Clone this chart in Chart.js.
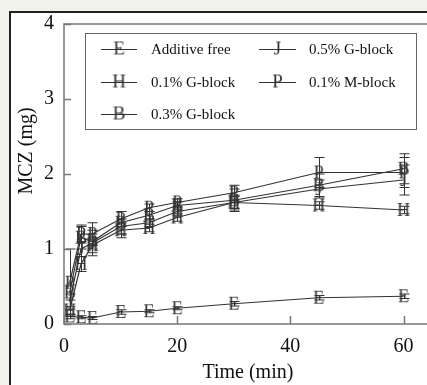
<!DOCTYPE html>
<html>
<head>
<meta charset="utf-8">
<script src="https://cdn.jsdelivr.net/npm/chart.js@4.4.1/dist/chart.umd.min.js"></script>
<style>
  html, body { margin: 0; padding: 0; background: #f2f2ed; overflow: hidden; }
  #frame { position: absolute; left: 9px; top: 11px; width: 500px; height: 500px;
           border-left: 2px solid #222; border-top: 2px solid #222; background: #fff; }
  #wrap { position: absolute; left: 0; top: 0; width: 440px; height: 385px; }
</style>
</head>
<body>
<div id="frame"></div>
<div id="wrap"><canvas id="chart" width="440" height="385"></canvas></div>
<script>
// time (min)
const times = [1, 3, 5, 10, 15, 20, 30, 45, 60]

// MCZ (mg) per series
const additiveFree = [0.10, 0.09, 0.08, 0.16, 0.17, 0.21, 0.27, 0.35, 0.37]
const g01 = [0.18, 0.80, 1.05, 1.25, 1.28, 1.42, 1.62, 1.58, 1.52]
const g03 = [0.42, 1.15, 1.10, 1.35, 1.45, 1.58, 1.65, 1.85, 2.07]
const g05 = [0.30, 1.00, 1.08, 1.30, 1.35, 1.50, 1.62, 1.80, 1.92]
const m01 = [0.55, 1.20, 1.20, 1.40, 1.55, 1.62, 1.75, 2.02, 2.02]

// error bars (+/-)
const additiveFreeErr = [0.03, 0.02, 0.02, 0.03, 0.02, 0.02, 0.03, 0.03, 0.03]
const g01Err = [0.05, 0.10, 0.10, 0.10, 0.05, 0.05, 0.08, 0.05, 0.05]
const g03Err = [0.10, 0.15, 0.10, 0.15, 0.05, 0.05, 0.15, 0.15, 0.20]
const g05Err = [0.10, 0.10, 0.17, 0.10, 0.05, 0.05, 0.10, 0.12, 0.20]
const m01Err = [0.45, 0.12, 0.15, 0.10, 0.05, 0.05, 0.10, 0.20, 0.20]

const seriesLabels = ['Additive free', '0.1% G-block', '0.3% G-block', '0.5% G-block', '0.1% M-block']
const markers = ['E', 'H', 'B', 'J', 'P']
const xTicks = [0, 20, 40, 60]
const yTicks = [0, 1, 2, 3, 4]

const serif = "'Liberation Serif', 'DejaVu Serif', serif"
const ink = '#333'

function letterImage(ch, size) {
  const c = document.createElement('canvas')
  c.width = size
  c.height = size + 2
  const g = c.getContext('2d')
  g.font = size + 'px ' + serif
  g.fillStyle = ink
  g.textAlign = 'center'
  g.textBaseline = 'middle'
  g.fillText(ch, size / 2, (size + 2) / 2 + 1)
  return c
}

const values = [additiveFree, g01, g03, g05, m01]
const errors = [additiveFreeErr, g01Err, g03Err, g05Err, m01Err]

const datasets = values.map((vals, i) => ({
  label: seriesLabels[i],
  data: times.map((t, j) => ({ x: t, y: vals[j] })),
  err: errors[i],
  borderColor: ink,
  borderWidth: 1.2,
  pointStyle: letterImage(markers[i], 18),
  pointRadius: 7,
  tension: 0,
  fill: false
}))

const boxPlugin = {
  id: 'box',
  afterDatasetsDraw(chart) {
    const ctx = chart.ctx
    const a = chart.chartArea
    const xs = chart.scales.x
    const ys = chart.scales.y
    ctx.save()
    // error bars
    ctx.strokeStyle = ink
    ctx.lineWidth = 1
    chart.data.datasets.forEach(ds => {
      ds.data.forEach((p, j) => {
        const e = ds.err[j]
        const px = Math.round(xs.getPixelForValue(p.x)) + 0.5
        const top = ys.getPixelForValue(p.y + e)
        const bot = ys.getPixelForValue(p.y - e)
        ctx.beginPath()
        ctx.moveTo(px, top); ctx.lineTo(px, bot)
        ctx.moveTo(px - 5, top); ctx.lineTo(px + 5, top)
        ctx.moveTo(px - 5, bot); ctx.lineTo(px + 5, bot)
        ctx.stroke()
      })
    })
    // frame
    ctx.strokeStyle = '#777'
    ctx.lineWidth = 1.5
    ctx.strokeRect(a.left, a.top, a.right - a.left, a.bottom - a.top)
    // inward ticks
    ctx.beginPath()
    xTicks.forEach(v => {
      const px = Math.round(xs.getPixelForValue(v)) + 0.5
      ctx.moveTo(px, a.bottom); ctx.lineTo(px, a.bottom - 8)
    })
    yTicks.forEach(v => {
      const py = Math.round(ys.getPixelForValue(v)) + 0.5
      ctx.moveTo(a.left, py); ctx.lineTo(a.left + 7, py)
    })
    ctx.stroke()

    // y axis title
    ctx.save()
    ctx.translate(27, 151)
    ctx.rotate(-Math.PI / 2)
    ctx.font = '20px ' + serif
    ctx.fillStyle = '#111'
    ctx.textAlign = 'center'
    ctx.textBaseline = 'middle'
    ctx.fillText('MCZ (mg)', 0, 0)
    ctx.restore()

    // legend
    ctx.strokeStyle = '#666'
    ctx.lineWidth = 1
    ctx.strokeRect(85.5, 33.5, 331, 96)
    const cols = [{ x0: 101, x1: 137, tx: 151 }, { x0: 259, x1: 296, tx: 309 }]
    const rows = [49, 82, 114]
    ctx.font = '15px ' + serif
    chart.data.datasets.forEach((ds, i) => {
      const c = cols[Math.floor(i / 3)]
      const y = rows[i % 3]
      ctx.strokeStyle = ink
      ctx.beginPath()
      ctx.moveTo(c.x0, y + 0.5); ctx.lineTo(c.x1, y + 0.5)
      ctx.stroke()
      const img = letterImage(markers[i], 19)
      ctx.drawImage(img, (c.x0 + c.x1) / 2 - img.width / 2, y - img.height / 2)
      ctx.fillStyle = '#111'
      ctx.textAlign = 'left'
      ctx.textBaseline = 'middle'
      ctx.fillText(ds.label, c.tx, y + 1)
    })
    ctx.restore()
  }
}

new Chart(document.getElementById('chart'), {
  type: 'line',
  data: { datasets },
  options: {
    responsive: false,
    animation: false,
    layout: { padding: { top: 24, right: 7, left: 0, bottom: 0 } },
    plugins: { legend: { display: false }, tooltip: { enabled: false } },
    scales: {
      x: {
        type: 'linear',
        min: 0,
        max: 65,
        afterFit: s => { s.height = 61 },
        ticks: { stepSize: 20, includeBounds: false, padding: 11, color: '#111',
                 font: { family: serif, size: 20 } },
        grid: { drawOnChartArea: false, drawTicks: false },
        border: { display: false },
        title: { display: true, text: 'Time (min)', color: '#111', padding: 0,
                 font: { family: serif, size: 20 } }
      },
      y: {
        min: 0,
        max: 4,
        afterFit: s => { s.width = 64 },
        ticks: { stepSize: 1, padding: 10, color: '#111',
                 font: { family: serif, size: 20 } },
        grid: { drawOnChartArea: false, drawTicks: false },
        border: { display: false },
        title: { display: false }
      }
    }
  },
  plugins: [boxPlugin]
})
</script>
</body>
</html>
